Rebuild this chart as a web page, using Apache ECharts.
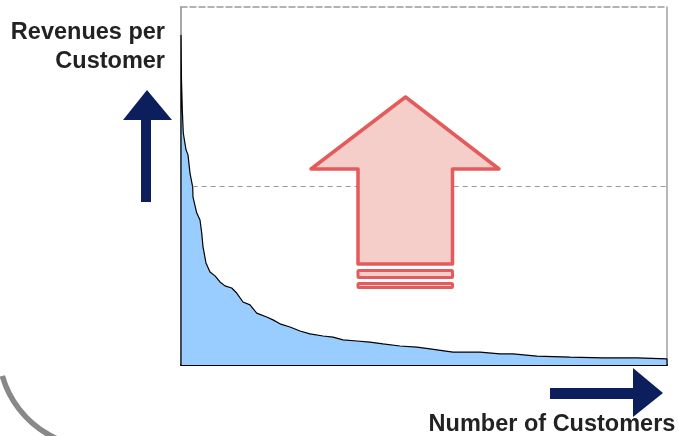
<!DOCTYPE html>
<html>
<head>
<meta charset="utf-8">
<script src="https://cdn.jsdelivr.net/npm/echarts@6/dist/echarts.min.js"></script>
<style>
  html, body { margin: 0; padding: 0; background: #fff; }
  #chart { width: 679px; height: 436px; }
</style>
</head>
<body>
<div id="chart"></div>
<script>
// Customers ranked by revenue (share of customer base, 0-100)
var customerRank = [0, 0, 0.1, 0.27, 0.47, 1.03, 1.44, 1.85, 2.41, 2.47, 3.23, 3.91, 4.26, 4.53,
  5.14, 5.97, 7.0, 8.02, 9.05, 10.43, 11.46, 12.76, 14.2, 15.58, 17.63, 18.93, 20.37,
  22.43, 24.49, 26.54, 29.22, 31.28, 33.33, 36.21, 38.89, 41.56, 45.06, 48.56, 51.23,
  55.97, 61.52, 65.64, 68.31, 73.25, 80.04, 86.83, 93.83, 100, 100];
// Revenue per customer (index, 0-100)
var revenuePerCustomer = [0, 92.2, 79.6, 71.2, 64.8, 60.1, 58.7, 53.6, 49.7, 46.9, 42.5, 40.5, 36.9, 33.0,
  28.5, 26.0, 24.9, 23.2, 22.1, 21.5, 20.1, 17.6, 16.8, 14.5, 13.4, 12.6, 11.5,
  10.6, 9.5, 8.7, 8.1, 7.8, 7.0, 6.7, 6.4, 5.9, 5.3, 5.0, 4.5,
  3.6, 3.6, 3.1, 3.1, 2.5, 2.2, 2.0, 2.0, 1.7, 0];
// Average revenue level and where it meets the curve
var averageRevenue = 50;
var averageStartRank = 2.4;
var axisMax = 100;

var curve = customerRank.map(function (x, i) { return [x, revenuePerCustomer[i]]; });

var chart = echarts.init(document.getElementById('chart'));

var navy = '#0c1f5c';
var red = '#e35b5b';
var pink = '#f5cdc9';
var font = '"Liberation Sans", Arial, sans-serif';

function frameAxis(position, color, type) {
  return {
    type: 'value', min: 0, max: axisMax, position: position,
    axisLine: { show: true, onZero: false, lineStyle: { color: color, width: 1.5, type: type } },
    axisTick: { show: false }, axisLabel: { show: false }, splitLine: { show: false }
  };
}

chart.setOption({
  animation: false,
  backgroundColor: '#fff',
  grid: { left: 181, top: 7, right: 12, bottom: 71 },
  xAxis: [
    {
      type: 'value', min: 0, max: axisMax, position: 'bottom',
      axisLine: { show: true, onZero: false, lineStyle: { color: '#000', width: 2 } },
      axisTick: { show: false }, axisLabel: { show: false }, splitLine: { show: false }
    },
    frameAxis('top', '#9a9a9a', [6, 3])
  ],
  yAxis: [
    frameAxis('left', '#8a8a8a', 'solid'),
    frameAxis('right', '#a0a0a0', 'solid')
  ],
  series: [
    {
      type: 'line',
      data: curve,
      showSymbol: false,
      smooth: false,
      lineStyle: { color: '#000', width: 1.2 },
      areaStyle: { color: '#99ccff', opacity: 1 },
      z: 2,
      markLine: {
        silent: true,
        symbol: 'none',
        label: { show: false },
        lineStyle: { color: '#999', width: 1, type: [5, 4] },
        data: [[
          { coord: [averageStartRank, averageRevenue] },
          { coord: [axisMax, averageRevenue] }
        ]]
      }
    }
  ],
  graphic: [
    // rounded frame corner in the lower left
    {
      type: 'arc', silent: true,
      shape: { cx: 97.5, cy: 348.6, r: 99, startAngle: 1.3, endAngle: 2.862, clockwise: true },
      style: { stroke: '#888', lineWidth: 5.5, fill: null }
    },
    // axis captions
    {
      type: 'text', x: 165, y: 33,
      style: { text: 'Revenues per', font: 'bold 23.5px ' + font, fill: '#222', align: 'right', verticalAlign: 'middle' }
    },
    {
      type: 'text', x: 165, y: 62,
      style: { text: 'Customer', font: 'bold 23.5px ' + font, fill: '#222', align: 'right', verticalAlign: 'middle' }
    },
    {
      type: 'text', x: 552, y: 425,
      style: { text: 'Number of Customers', font: 'bold 23.5px ' + font, fill: '#222', align: 'center', verticalAlign: 'middle' }
    },
    // direction arrows
    {
      type: 'polygon', silent: true,
      shape: { points: [[147, 90], [172, 120], [151, 120], [151, 202], [141, 202], [141, 120], [123, 120]] },
      style: { fill: navy }
    },
    {
      type: 'polygon', silent: true,
      shape: { points: [[550, 388], [633, 388], [633, 368], [663, 393], [633, 417], [633, 399], [550, 399]] },
      style: { fill: navy }
    },
    // upward push arrow
    {
      type: 'polygon', silent: true, z: 10,
      shape: { points: [[405.5, 97], [499, 169], [452.5, 169], [452.5, 264], [358, 264], [358, 169], [311, 169]] },
      style: { fill: pink, stroke: red, lineWidth: 3.5, lineJoin: 'round' }
    },
    {
      type: 'rect', silent: true, z: 10,
      shape: { x: 358, y: 270.5, width: 94.5, height: 7, r: 1 },
      style: { fill: pink, stroke: red, lineWidth: 3 }
    },
    {
      type: 'rect', silent: true, z: 10,
      shape: { x: 358, y: 283.5, width: 94.5, height: 4, r: 1 },
      style: { fill: pink, stroke: red, lineWidth: 3 }
    }
  ]
});
</script>
</body>
</html>
